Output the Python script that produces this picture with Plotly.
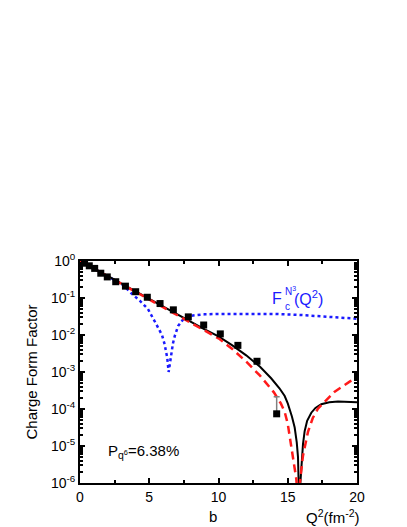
import numpy as np
import plotly.graph_objects as go

# Experimental points (Q^2 in fm^-2, log10 of form factor)
exp_q2 = [0.33, 0.67, 1.06, 1.5, 1.97, 2.58, 3.28, 4.02, 4.86, 5.78, 6.74, 7.82,
          8.93, 10.13, 11.4, 12.78, 14.2]
exp_log = [-0.06, -0.13, -0.20, -0.33, -0.43, -0.56, -0.68, -0.83, -0.98, -1.15,
           -1.32, -1.51, -1.73, -1.97, -2.28, -2.71, -4.13]
exp_err_up = [0, 0, 0, 0, 0, 0, 0, 0, 0, 0, 0, 0, 0, 0, 0, 0, 1.4e-4]

# Full calculation (black solid)
full_q2 = [0, 1, 2, 3, 4, 5, 6, 7, 8, 9, 10, 11, 12, 13, 13.8, 14.4, 14.78, 15.0,
           15.3, 15.5, 15.65, 15.74, 15.82, 15.9, 16.0, 16.1, 16.22, 16.4, 16.7,
           17.0, 17.42, 18.0, 18.63, 19.3, 20]
full_log = [0, -0.19, -0.40, -0.61, -0.82, -1.02, -1.22, -1.43, -1.64, -1.85, -2.04,
            -2.28, -2.55, -2.86, -3.17, -3.44, -3.65, -3.85, -4.2, -4.5, -4.9, -5.3,
            -6.5, -6.0, -5.5, -4.95, -4.6, -4.32, -4.1, -3.97, -3.87, -3.82, -3.8,
            -3.81, -3.82]

# Second calculation (red dashed)
red_q2 = [0, 1, 2, 3, 4, 5, 6, 7, 8, 9, 10, 11, 12, 13, 14, 14.5, 14.78, 15.0,
          15.26, 15.45, 15.62, 15.72, 15.86, 16.1, 16.46, 16.8, 17.18, 17.8, 18.39,
          19.0, 19.47, 20]
red_log = [0, -0.2, -0.41, -0.62, -0.83, -1.04, -1.25, -1.46, -1.67, -1.88, -2.09,
           -2.38, -2.72, -3.1, -3.55, -3.85, -4.08, -4.4, -5.0, -5.4, -5.9, -6.5,
           -5.98, -5.26, -4.62, -4.25, -3.99, -3.74, -3.53, -3.38, -3.26, -3.15]

# N3 component (blue dotted)
n3_q2 = [0, 1, 2, 3, 3.22, 3.75, 4.31, 4.91, 5.51, 5.92, 6.11, 6.3, 6.4, 6.55,
         6.71, 6.84, 7.08, 7.44, 7.8, 8.45, 9, 10, 12, 14, 16, 18, 20]
n3_log = [0, -0.2, -0.42, -0.62, -0.69, -0.89, -1.07, -1.3, -1.71, -2.0, -2.25,
          -2.62, -3.0, -2.6, -2.23, -2.03, -1.76, -1.58, -1.49, -1.46, -1.44, -1.43,
          -1.42, -1.43, -1.46, -1.5, -1.56]

y_ticks = [1e0, 1e-1, 1e-2, 1e-3, 1e-4, 1e-5, 1e-6]
y_tick_text = ["10<sup>0</sup>", "10<sup>-1</sup>", "10<sup>-2</sup>", "10<sup>-3</sup>",
               "10<sup>-4</sup>", "10<sup>-5</sup>", "10<sup>-6</sup>"]
x_ticks = [0, 5, 10, 15, 20]
y_minor = [m * 10.0 ** e for e in range(-6, 0) for m in range(2, 10)]

FONT = "Arial, Liberation Sans, sans-serif"

fig = go.Figure()
fig.add_trace(go.Scatter(x=n3_q2, y=10 ** np.array(n3_log), mode="lines",
                         line=dict(color="#1a1aff", width=2.5, dash="dot")))
fig.add_trace(go.Scatter(x=full_q2, y=10 ** np.array(full_log), mode="lines",
                         line=dict(color="black", width=2)))
fig.add_trace(go.Scatter(x=red_q2, y=10 ** np.array(red_log), mode="lines",
                         line=dict(color="#ff1a1a", width=2.5, dash="8px,5px")))
fig.add_trace(go.Scatter(x=exp_q2, y=10 ** np.array(exp_log), mode="markers",
                         marker=dict(symbol="square", size=7, color="black"),
                         error_y=dict(type="data", symmetric=False, array=exp_err_up,
                                      arrayminus=[0] * len(exp_q2), color="gray",
                                      thickness=1.5, width=3)))

axis_common = dict(showline=True, linecolor="black", linewidth=2, mirror="ticks",
                   ticks="inside", tickcolor="black", tickwidth=1.5, showgrid=False,
                   zeroline=False, automargin=False,
                   tickfont=dict(family=FONT, size=14, color="black"))

fig.update_xaxes(range=[0, 20], tickvals=x_ticks, ticklen=5,
                 minor=dict(ticks="inside", dtick=2.5, ticklen=3, tickcolor="black"),
                 **axis_common)
fig.update_yaxes(type="log", range=[-6, 0], tickvals=y_ticks, ticktext=y_tick_text,
                 ticklen=5,
                 minor=dict(ticks="inside", tickmode="array", tickvals=y_minor,
                            ticklen=3, tickcolor="black"),
                 title=dict(text="Charge Form Factor",
                            font=dict(family=FONT, size=15, color="black"),
                            standoff=10),
                 **axis_common)

anns = [
    dict(x=205, y=508, text="b", font=dict(size=15)),
    dict(x=325, y=508, text="Q<sup>2</sup>(fm<sup>-2</sup>)", font=dict(size=15)),
    dict(x=135, y=443, text="P<sub>q<sup>6</sup></sub>=6.38%", font=dict(size=15)),
    dict(x=269, y=290, text="F", font=dict(size=16, color="#1a1aff")),
    dict(x=282, y=283, text="N<sup>3</sup>", font=dict(size=10, color="#1a1aff")),
    dict(x=279, y=298, text="c", font=dict(size=10, color="#1a1aff")),
    dict(x=300, y=290, text="(Q<sup>2</sup>)", font=dict(size=16, color="#1a1aff")),
]

fig.update_layout(width=407, height=527, showlegend=False,
                  margin=dict(l=72, r=58, t=253, b=52),
                  plot_bgcolor="white", paper_bgcolor="white",
                  font=dict(family=FONT, color="black"))

# annotation pixel positions -> plot-area paper coordinates
pw, ph = 407 - 72 - 58, 527 - 253 - 52
for a in anns:
    a["font"].setdefault("color", "black")
    a["font"]["family"] = FONT
    fig.add_annotation(x=(a["x"] - 72) / pw, y=(527 - 52 - a["y"]) / ph,
                       xref="paper", yref="paper", text=a["text"], showarrow=False,
                       font=a["font"], xanchor="center", yanchor="middle")

fig.write_html("out.html")
